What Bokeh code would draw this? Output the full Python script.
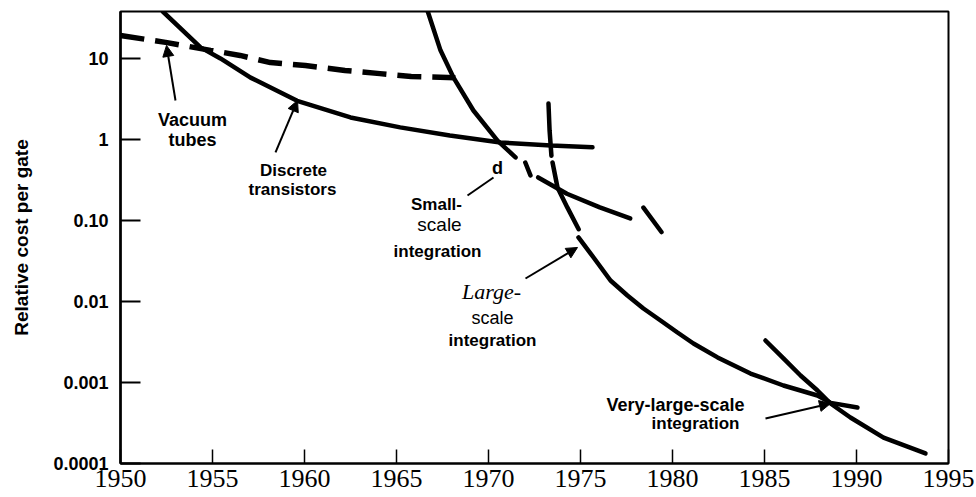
import numpy as np
from bokeh.plotting import figure
from bokeh.models import Range1d, FixedTicker, Label, Arrow, NormalHead
from bokeh.embed import file_html
from bokeh.resources import INLINE

nan = float("nan")

# ---- data ----
vacuum_year = [1950.0, 1952.45, 1954.9, 1956.5, 1958.15, 1960.05, 1962.2, 1964.1, 1965.8, 1968.2]
vacuum_cost = [19.2, 15.8, 12.6, 10.9, 8.9, 8.2, 7.1, 6.5, 6.0, 5.8]

discrete_year = [1952.3, 1954.35, 1955.43, 1957.07, 1959.6, 1962.5, 1965.2, 1967.9, 1970.65, 1973.4, 1975.65]
discrete_cost = [38.0, 13.7, 10.0, 5.8, 3.0, 1.87, 1.41, 1.12, 0.92, 0.84, 0.80]

ssi_year = [1966.7, 1967.39, 1968.1, 1969.18, 1970.49, 1971.47, nan,
            1972.0, 1972.28, nan,
            1972.7, 1974.26, 1976.05, 1977.7, nan,
            1978.42, 1979.4]
ssi_cost = [38.0, 12.6, 5.8, 2.28, 0.97, 0.60, nan,
            0.52, 0.36, nan,
            0.34, 0.214, 0.145, 0.106, nan,
            0.144, 0.072]

lsi_year = [1973.26, 1973.32, 1973.42, nan,
            1973.48, 1973.75, 1974.29, 1974.9, nan,
            1974.89, 1975.71, 1976.63, 1977.55, 1978.42, 1979.35, 1980.27, 1981.14,
            1982.45, 1984.24, 1986.03, 1987.88, 1988.6, 1990.05]
lsi_cost = [2.78, 1.29, 0.63, nan,
            0.52, 0.255, 0.144, 0.078, nan,
            0.0617, 0.0349, 0.01815, 0.01186, 0.0082, 0.00582, 0.00414, 0.00303,
            0.00204, 0.00129, 0.000918, 0.000691, 0.00056, 0.000491]

vlsi_year = [1985.05, 1986.03, 1986.96, 1987.88, 1988.59, 1989.67, 1991.47, 1993.75]
vlsi_cost = [3.3e-3, 1.98e-3, 1.22e-3, 7.96e-4, 5.5e-4, 3.7e-4, 2.09e-4, 1.33e-4]

x_ticks = [1950, 1955, 1960, 1965, 1970, 1975, 1980, 1985, 1990, 1995]
x_tick_labels = ["1950", "1955", "1960", "1965", "1970", "1975", "1980", "1985", "1990", "1995"]
y_ticks = [0.0001, 0.001, 0.01, 0.1, 1, 10]
y_tick_labels = ["0.0001", "0.001", "0.01", "0.10", "1", "10"]

# ---- figure ----
p = figure(width=976, height=497, y_axis_type="log",
           x_range=Range1d(1950, 1995), y_range=Range1d(1e-4, 38),
           output_backend="svg", toolbar_location=None,
           min_border_left=120, min_border_right=28, min_border_top=11, min_border_bottom=34)
p.background_fill_color = "white"
p.border_fill_color = "white"
p.outline_line_color = "black"
p.outline_line_width = 2
p.xgrid.visible = False
p.ygrid.visible = False

p.xaxis.ticker = FixedTicker(ticks=x_ticks)
p.xaxis.major_label_overrides = {t: s for t, s in zip(x_ticks, x_tick_labels)}
p.xaxis.major_tick_in = 14
p.xaxis.major_tick_out = 0
p.xaxis.minor_tick_line_color = None
p.xaxis.major_tick_line_width = 1.5
p.xaxis.axis_line_width = 2
p.xaxis.major_label_standoff = 6
p.xaxis.major_label_text_font = "Liberation Serif"
p.xaxis.major_label_text_font_size = "26px"
p.xaxis.major_label_text_color = "black"

p.yaxis.ticker = FixedTicker(ticks=y_ticks)
p.yaxis.major_label_overrides = {t: s for t, s in zip(y_ticks, y_tick_labels)}
p.yaxis.major_tick_in = 20
p.yaxis.major_tick_out = 0
p.yaxis.minor_tick_line_color = None
p.yaxis.major_tick_line_width = 2
p.yaxis.axis_line_width = 2.5
p.yaxis.major_label_standoff = 12
p.yaxis.major_label_text_font = "Liberation Sans"
p.yaxis.major_label_text_font_style = "bold"
p.yaxis.major_label_text_font_size = "18px"
p.yaxis.major_label_text_color = "black"
p.yaxis.axis_label = "Relative cost per gate"
p.yaxis.axis_label_text_font = "Liberation Sans"
p.yaxis.axis_label_text_font_style = "bold"
p.yaxis.axis_label_text_font_size = "19px"
p.yaxis.axis_label_text_color = "black"
p.yaxis.axis_label_standoff = 18

# ---- curves ----
p.line(vacuum_year, vacuum_cost, line_color="black", line_width=5.5, line_dash="24 11")
p.line(discrete_year, discrete_cost, line_color="black", line_width=4.5, line_cap="round")
p.line(ssi_year, ssi_cost, line_color="black", line_width=4.5, line_cap="round")
p.line(lsi_year, lsi_cost, line_color="black", line_width=4.5, line_cap="round")
p.line(vlsi_year, vlsi_cost, line_color="black", line_width=4.5, line_cap="round")

# ---- page-pixel helpers for annotation placement ----
def yr(px):
    return 1950 + (px - 120) / 18.4

def cv(py):
    return 10 ** (1 - (py - 58) / 81)

SANS = "Liberation Sans"
SERIF = "Liberation Serif"

def lab(text, px, py, size, font=SANS, style="normal", align="center"):
    p.add_layout(Label(x=yr(px), y=cv(py), text=text, text_font=font,
                       text_font_size=f"{size}px", text_font_style=style,
                       text_align=align, text_baseline="middle", text_color="black"))

def arrow(x0, y0, x1, y1, head=True):
    kw = {}
    if head:
        kw["end"] = NormalHead(size=11, fill_color="black", line_color="black")
    else:
        kw["end"] = None
    p.add_layout(Arrow(x_start=yr(x0), y_start=cv(y0), x_end=yr(x1), y_end=cv(y1),
                       line_width=2, line_color="black", **kw))

# annotations
lab("Vacuum", 192, 120, 18, SANS, "bold")
lab("tubes", 192, 140, 18, SANS, "bold")
arrow(175, 100, 166, 45)

lab("Discrete", 293, 170, 17, SANS, "bold")
lab("transistors", 292, 189, 17, SANS, "bold")
arrow(275, 152, 297, 100)

lab("d", 497, 168, 18, SANS, "bold")
arrow(467, 195, 493, 177, head=False)

lab("Small-", 436, 204, 17, SANS, "bold")
lab("scale", 439, 224, 19, SANS)
lab("integration", 437, 251, 17, SANS, "bold")

lab("Large-", 491, 291, 22, SERIF, "italic")
lab("scale", 492, 318, 18, SANS)
lab("integration", 492, 340, 17, SANS, "bold")
arrow(525, 278, 577, 247)

lab("Very-large-scale", 675, 405, 18, SANS, "bold")
lab("integration", 695, 423, 17, SANS, "bold")
arrow(765, 418, 830, 403)

open("out.html", "w").write(file_html(p, INLINE))
